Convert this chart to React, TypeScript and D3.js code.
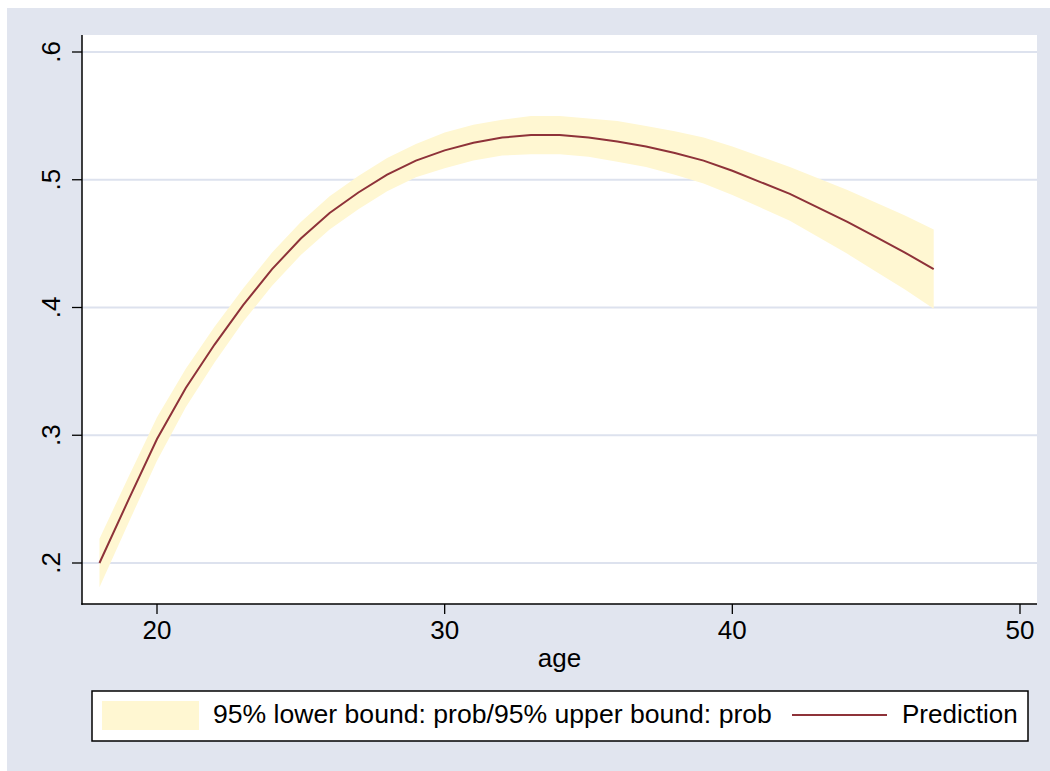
import React, { useEffect, useRef } from 'react';
import * as d3 from 'd3';

// predicted probability by age, with its 95% bounds
const ages = [18, 19, 20, 21, 22, 23, 24, 25, 26, 27, 28, 29, 30, 31, 32, 33, 34, 35, 36, 37, 38, 39, 40, 41, 42, 43, 44, 45, 46, 47];
const prediction = [.200, .249, .297, .337, .371, .402, .430, .454, .474, .490, .504, .515, .523, .529, .533, .535, .535, .533, .530, .526, .521, .515, .507, .498, .489, .478, .467, .455, .443, .430];
const lowerBound = [.181, .231, .280, .322, .357, .389, .417, .441, .461, .477, .491, .502, .509, .515, .519, .520, .520, .518, .514, .510, .504, .497, .488, .478, .468, .455, .442, .428, .414, .399];
const upperBound = [.219, .267, .314, .352, .385, .415, .443, .467, .487, .503, .517, .528, .537, .543, .547, .550, .550, .548, .546, .542, .538, .533, .526, .518, .510, .501, .492, .482, .472, .461];
const xTicks = [20, 30, 40, 50];
const yTicks = [.2, .3, .4, .5, .6];
const yTickLabels = ['.2', '.3', '.4', '.5', '.6'];
const legendLabels = ['95% lower bound: prob/95% upper bound: prob', 'Prediction'];

export default function App() {
  const ref = useRef<SVGSVGElement>(null);

  useEffect(() => {
    const svg = d3.select(ref.current);
    svg.selectAll('*').remove();

    const W = 1050, H = 771;
    const plot = { left: 82, right: 1037, top: 35, bottom: 604 };
    const font = 'Liberation Sans, Arial, sans-serif';
    const bg = '#E1E5EF';

    svg.append('rect').attr('x', 7).attr('y', 8).attr('width', W - 7).attr('height', H - 8).attr('fill', bg);
    svg.append('rect')
      .attr('x', plot.left).attr('y', plot.top)
      .attr('width', plot.right - plot.left).attr('height', plot.bottom - plot.top)
      .attr('fill', '#fff');

    // x: 20 -> 157, 50 -> 1020
    const x = d3.scaleLinear().domain([20, 50]).range([157, 1020]);
    const y = d3.scaleLinear().domain([.2, .6]).range([563, 52]);

    // grid
    svg.append('g').selectAll('line').data(yTicks).enter().append('line')
      .attr('x1', plot.left).attr('x2', plot.right)
      .attr('y1', d => y(d)).attr('y2', d => y(d))
      .attr('stroke', '#DDE2EE').attr('stroke-width', 1.8);

    const rows = ages.map((a, i) => ({ a, p: prediction[i], lo: lowerBound[i], hi: upperBound[i] }));

    const area = d3.area<any>()
      .x(d => x(d.a)).y0(d => y(d.lo)).y1(d => y(d.hi));
    svg.append('path').datum(rows).attr('d', area).attr('fill', '#FFF7D2');

    const line = d3.line<any>().x(d => x(d.a)).y(d => y(d.p));
    svg.append('path').datum(rows).attr('d', line)
      .attr('fill', 'none').attr('stroke', '#8E3239').attr('stroke-width', 2);

    // axes
    const yAxis = svg.append('g').attr('transform', `translate(${plot.left},0)`);
    yAxis.append('line').attr('x1', 0).attr('x2', 0).attr('y1', plot.top).attr('y2', plot.bottom + 0.75)
      .attr('stroke', '#000').attr('stroke-width', 1.5);
    yAxis.selectAll('line.tick').data(yTicks).enter().append('line')
      .attr('class', 'tick')
      .attr('x1', -10).attr('x2', 0).attr('y1', d => y(d)).attr('y2', d => y(d))
      .attr('stroke', '#000').attr('stroke-width', 1.3);
    yAxis.selectAll('text').data(yTicks).enter().append('text')
      .attr('transform', d => `translate(-22,${y(d)}) rotate(-90)`)
      .attr('text-anchor', 'middle')
      .attr('font-family', font).attr('font-size', 26).attr('fill', '#000')
      .text((d, i) => yTickLabels[i]);

    const xAxis = svg.append('g').attr('transform', `translate(0,${plot.bottom})`);
    xAxis.append('line').attr('x1', plot.left - 0.75).attr('x2', plot.right).attr('y1', 0).attr('y2', 0)
      .attr('stroke', '#000').attr('stroke-width', 1.5);
    xAxis.selectAll('line.tick').data(xTicks).enter().append('line')
      .attr('class', 'tick')
      .attr('x1', d => x(d)).attr('x2', d => x(d)).attr('y1', 0).attr('y2', 10)
      .attr('stroke', '#000').attr('stroke-width', 1.3);
    xAxis.selectAll('text').data(xTicks).enter().append('text')
      .attr('x', d => x(d)).attr('y', 35)
      .attr('text-anchor', 'middle')
      .attr('font-family', font).attr('font-size', 26).attr('fill', '#000')
      .text(d => d);

    svg.append('text').attr('x', (plot.left + plot.right) / 2).attr('y', 667)
      .attr('text-anchor', 'middle')
      .attr('font-family', font).attr('font-size', 26).attr('fill', '#000')
      .text('age');

    // legend
    const lg = svg.append('g');
    lg.append('rect').attr('x', 92).attr('y', 691).attr('width', 936).attr('height', 50)
      .attr('fill', '#fff').attr('stroke', '#000').attr('stroke-width', 1.5);
    lg.append('rect').attr('x', 102).attr('y', 701).attr('width', 97).attr('height', 29).attr('fill', '#FFF7D2');
    lg.append('text').attr('x', 213).attr('y', 723)
      .attr('font-family', font).attr('font-size', 26.6).attr('fill', '#000').text(legendLabels[0]);
    lg.append('line').attr('x1', 792).attr('x2', 887).attr('y1', 715).attr('y2', 715)
      .attr('stroke', '#8E3239').attr('stroke-width', 2);
    lg.append('text').attr('x', 902).attr('y', 723)
      .attr('font-family', font).attr('font-size', 26).attr('fill', '#000').text(legendLabels[1]);
  }, []);

  return (
    <svg ref={ref} width={1050} height={771}
      style={{ position: 'absolute', left: 0, top: 0, display: 'block' }} />
  );
}
